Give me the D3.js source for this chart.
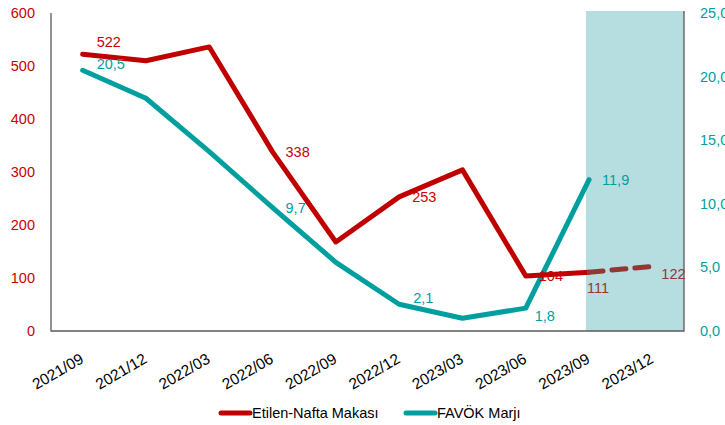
<!DOCTYPE html>
<html>
<head>
<meta charset="utf-8">
<script src="https://cdn.jsdelivr.net/npm/d3@7"></script>
<style>
  body { margin: 0; background: #fff; }
  svg text { font-family: "Liberation Sans", Arial, sans-serif; }
</style>
</head>
<body>
<div id="chart"></div>
<script>
// data
const periods = ["2021/09", "2021/12", "2022/03", "2022/06", "2022/09", "2022/12", "2023/03", "2023/06", "2023/09", "2023/12"];
const spread = [522, 510, 536, 338, 168, 253, 304, 104, 111, 122];   // Etilen-Nafta Makası
const margin = [20.5, 18.3, 14.1, 9.7, 5.4, 2.1, 1.0, 1.8, 11.9];    // FAVÖK Marjı
const leftTicks = [0, 100, 200, 300, 400, 500, 600];
const rightTicks = [0, 5, 10, 15, 20, 25];
// which points carry a label, and where it sits
const spreadLabels = [[0, "up"], [3, "right"], [5, "right"], [7, "right"], [8, "below"], [9, "rightlow"]];
const marginLabels = [[0, "upright"], [3, "right"], [5, "upright"], [7, "rightlow"], [8, "right"]];
const forecastFrom = 8; // index where the dashed estimate starts

const width = 725, height = 425;
const plot = {left: 51, right: 684, top: 13, bottom: 331};
const red = "#c00000", darkRed = "#943634", teal = "#009f9f";

const svg = d3.select("#chart").append("svg")
  .attr("width", width)
  .attr("height", height);

const x = d3.scalePoint()
  .domain(periods)
  .range([plot.left, plot.right])
  .padding(0.5);
const yL = d3.scaleLinear().domain([0, 600]).range([plot.bottom, plot.top]);
const yR = d3.scaleLinear().domain([0, 25]).range([plot.bottom, plot.top]);

// shaded forecast area
svg.append("rect")
  .attr("x", x(periods[forecastFrom]) - 3)
  .attr("y", plot.top - 2)
  .attr("width", plot.right - x(periods[forecastFrom]) + 3)
  .attr("height", plot.bottom - plot.top + 2)
  .attr("fill", "#b6dddf");

// frame lines (left, bottom, right)
svg.append("path")
  .attr("d", `M${plot.left},${plot.top}V${plot.bottom}H${plot.right}V${plot.top - 2}`)
  .attr("fill", "none")
  .attr("stroke", "#595959")
  .attr("stroke-width", 1.3);

// left axis labels
svg.append("g").selectAll("text")
  .data(leftTicks)
  .enter().append("text")
  .attr("x", 35)
  .attr("y", d => yL(d))
  .attr("dy", "0.35em")
  .attr("text-anchor", "end")
  .style("font-size", "14.5px")
  .style("fill", "#cc0000")
  .text(d => d);

// right axis labels
svg.append("g").selectAll("text")
  .data(rightTicks)
  .enter().append("text")
  .attr("x", 700)
  .attr("y", d => yR(d))
  .attr("dy", "0.35em")
  .style("font-size", "14.5px")
  .style("fill", teal)
  .text(d => d.toFixed(1).replace(".", ","));

// x tick labels, slanted
svg.append("g").selectAll("text")
  .data(periods)
  .enter().append("text")
  .attr("transform", d => `translate(${x(d) + 2},${362}) rotate(-30)`)
  .attr("text-anchor", "end")
  .style("font-size", "15.5px")
  .style("fill", "#000")
  .text(d => d);

// lines
const lineL = d3.line().x((d, i) => x(periods[i])).y(d => yL(d));
const lineR = d3.line().x((d, i) => x(periods[i])).y(d => yR(d));

svg.append("path")
  .datum(margin)
  .attr("d", lineR)
  .attr("fill", "none")
  .attr("stroke", teal)
  .attr("stroke-width", 5)
  .attr("stroke-linejoin", "round")
  .attr("stroke-linecap", "round");

svg.append("path")
  .datum(spread.slice(0, forecastFrom + 1))
  .attr("d", lineL)
  .attr("fill", "none")
  .attr("stroke", red)
  .attr("stroke-width", 5)
  .attr("stroke-linejoin", "round")
  .attr("stroke-linecap", "round");

const lineF = d3.line().x((d, i) => x(periods[i + forecastFrom])).y(d => yL(d));
svg.append("path")
  .datum(spread.slice(forecastFrom))
  .attr("d", lineF)
  .attr("fill", "none")
  .attr("stroke", darkRed)
  .attr("stroke-width", 5)
  .attr("stroke-dasharray", "14,9")
  .attr("stroke-linecap", "round");

// data labels
const offsets = {
  up: [14, -12, "start"],
  upright: [14, -6, "start"],
  right: [13, 0, "start"],
  rightlow: [9, 8, "start"],
  below: [-2, 16, "start"]
};

function addLabels(list, values, scale, color, fmt, colorFn) {
  svg.append("g").selectAll("text")
    .data(list)
    .enter().append("text")
    .attr("x", d => x(periods[d[0]]) + offsets[d[1]][0])
    .attr("y", d => scale(values[d[0]]) + offsets[d[1]][1])
    .attr("dy", "0.35em")
    .attr("text-anchor", d => offsets[d[1]][2])
    .style("font-size", "14.5px")
    .style("fill", d => colorFn ? colorFn(d[0]) : color)
    .text(d => fmt(values[d[0]]));
}

addLabels(spreadLabels, spread, yL, "#cc0000", v => v, i => i >= forecastFrom ? darkRed : "#cc0000");
addLabels(marginLabels, margin, yR, teal, v => v.toFixed(1).replace(".", ","));

// legend
const legendItems = [["Etilen-Nafta Makası", red, 221], ["FAVÖK Marjı", teal, 406]];
const legend = svg.append("g").attr("transform", "translate(0, 413)");
legendItems.forEach(it => {
  legend.append("line")
    .attr("x1", it[2]).attr("x2", it[2] + 29)
    .attr("y1", 0).attr("y2", 0)
    .attr("stroke", it[1])
    .attr("stroke-width", 5)
    .attr("stroke-linecap", "round");
  legend.append("text")
    .attr("x", it[2] + 31)
    .attr("y", 0)
    .attr("dy", "0.35em")
    .style("font-size", "14.5px")
    .style("fill", "#000")
    .text(it[0]);
});
</script>
</body>
</html>
